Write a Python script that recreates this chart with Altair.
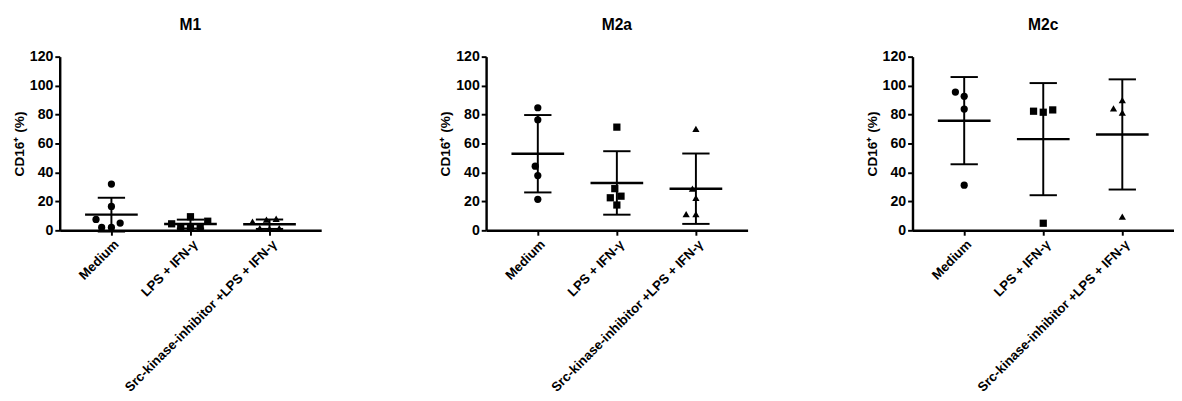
import json
import altair as alt
import pandas as pd

# ---------------- data ----------------
panels = ["M1", "M2a", "M2c"]
groups = ["Medium", "LPS + IFN-γ", "Src-kinase-inhibitor +LPS + IFN-γ"]

m1_medium = [32.0, 16.5, 7.5, 5.0, 2.0, 2.0]
m1_lps = [6.3, 9.4, 4.5, 1.8, 2.0, 2.0]
m1_src = [7.4, 8.0, 6.0, 1.5, 1.5, 1.0]

m2a_medium = [84.7, 76.4, 44.3, 37.8, 21.4]
m2a_lps = [71.3, 28.8, 23.6, 22.5, 17.5]
m2a_src = [70.1, 28.8, 22.5, 11.2, 11.2]

m2c_medium = [92.6, 95.5, 83.8, 31.2]
m2c_lps = [82.3, 81.6, 83.2, 4.9]
m2c_src = [89.9, 84.3, 81.4, 9.4]

y_ticks = [0, 20, 40, 60, 80, 100, 120]
y_title = "CD16⁺ (%)"

panel_values = {
    "M1": [m1_medium, m1_lps, m1_src],
    "M2a": [m2a_medium, m2a_lps, m2a_src],
    "M2c": [m2c_medium, m2c_lps, m2c_src],
}

# ---------------- layout / style ----------------
PLOT_W, PLOT_H = 268, 178
X_PAD = 0.654
STEP = PLOT_W / (len(groups) - 1 + 2 * X_PAD)
PX_PER_UNIT = PLOT_H / (y_ticks[-1] - y_ticks[0])
DIAM = 10.0
CAP_HALF = 14 / STEP
MEAN_HALF = 27 / STEP
FONT = "Liberation Sans"


def swarm(values):
    """Simple beeswarm: place each point at the smallest horizontal offset (px)
    that does not collide with points already placed."""
    placed = []
    offsets = [0.0] * len(values)
    order = sorted(range(len(values)), key=lambda i: values[i])
    for i in order:
        y = values[i] * PX_PER_UNIT
        cands = [0.0]
        for px, py in placed:
            dy = abs(py - y)
            if dy < DIAM:
                dx = (DIAM ** 2 - dy ** 2) ** 0.5
                cands += [px + dx, px - dx]
        cands.sort(key=lambda c: (round(abs(c), 6), c))
        chosen = cands[-1]
        for c in cands:
            if all((c - px) ** 2 + (y - py) ** 2 >= DIAM ** 2 - 1e-6 for px, py in placed):
                chosen = c
                break
        placed.append((chosen, y))
        offsets[i] = chosen
    return offsets


label_expr = json.dumps(groups) + "[datum.value]"

x_axis = alt.Axis(
    values=[0, 1, 2], labelExpr=label_expr, labelAngle=-45, grid=False,
    title=None, domainWidth=2.5, domainColor="black", tickColor="black",
    tickWidth=2, tickSize=5, labelFontSize=13.5, labelFontWeight="bold",
    labelColor="black", labelFont=FONT, labelPadding=2, labelAlign="right",
    labelBaseline="top", labelOverlap=False, labelLimit=400,
)
y_axis = alt.Axis(
    values=y_ticks, grid=False, title=y_title, domainWidth=2.5,
    domainColor="black", tickColor="black", tickWidth=2, tickSize=5,
    labelFontSize=14.5, labelFontWeight="bold", labelColor="black",
    labelFont=FONT, labelPadding=2, titleFontSize=14, titleFontWeight="bold",
    titleFont=FONT, titleColor="black", titlePadding=3,
)
x_scale = alt.Scale(domain=[-X_PAD, len(groups) - 1 + X_PAD], nice=False, zero=False)
y_scale = alt.Scale(domain=[y_ticks[0], y_ticks[-1]], nice=False)


def xenc(field):
    return alt.X(f"{field}:Q", scale=x_scale, axis=x_axis, title=None)


def x2enc(field):
    return alt.X2(f"{field}:Q")


def yenc(field):
    return alt.Y(f"{field}:Q", scale=y_scale, axis=y_axis, title=y_title)


charts = []
for p in panels:
    rows = []
    for gi, (g, vals) in enumerate(zip(groups, panel_values[p])):
        offs = swarm(vals)
        for v, o in zip(vals, offs):
            rows.append({"group": g, "idx": gi, "value": v, "xpos": gi + o / STEP})
    df = pd.DataFrame(rows)
    base = alt.Chart(df)

    points = base.mark_point(filled=True, opacity=1, color="black", size=55).encode(
        x=xenc("xpos"), y=yenc("value"),
        shape=alt.Shape("group:N", scale=alt.Scale(domain=groups,
                        range=["circle", "square", "triangle-up"]), legend=None),
    )

    agg = base.transform_aggregate(
        mean="mean(value)", sd="stdev(value)", groupby=["idx"]
    ).transform_calculate(
        lo="datum.mean - datum.sd", hi="datum.mean + datum.sd",
        cl=f"datum.idx - {CAP_HALF}", cr=f"datum.idx + {CAP_HALF}",
        ml=f"datum.idx - {MEAN_HALF}", mr=f"datum.idx + {MEAN_HALF}",
    )
    vrule = agg.mark_rule(color="black", strokeWidth=2).encode(
        x=xenc("idx"), y=yenc("lo"), y2=alt.Y2("hi:Q"))
    cap_hi = agg.mark_rule(color="black", strokeWidth=2).encode(
        x=xenc("cl"), x2=x2enc("cr"), y=yenc("hi"))
    cap_lo = agg.mark_rule(color="black", strokeWidth=2).encode(
        x=xenc("cl"), x2=x2enc("cr"), y=yenc("lo"))
    mean_line = agg.mark_rule(color="black", strokeWidth=2.5).encode(
        x=xenc("ml"), x2=x2enc("mr"), y=yenc("mean"))

    layer = alt.layer(vrule, cap_hi, cap_lo, mean_line, points).properties(
        width=PLOT_W, height=PLOT_H,
        title=alt.TitleParams(p, fontSize=16, fontWeight="bold", font=FONT,
                              color="black", anchor="middle", offset=16),
    )
    charts.append(layer)

chart = alt.hconcat(*charts, spacing=120).configure_view(stroke=None).properties(
    padding={"left": 4, "top": 5, "right": 0, "bottom": 0}
)

chart.save("out.html", embed_options={"renderer": "svg", "actions": False})
